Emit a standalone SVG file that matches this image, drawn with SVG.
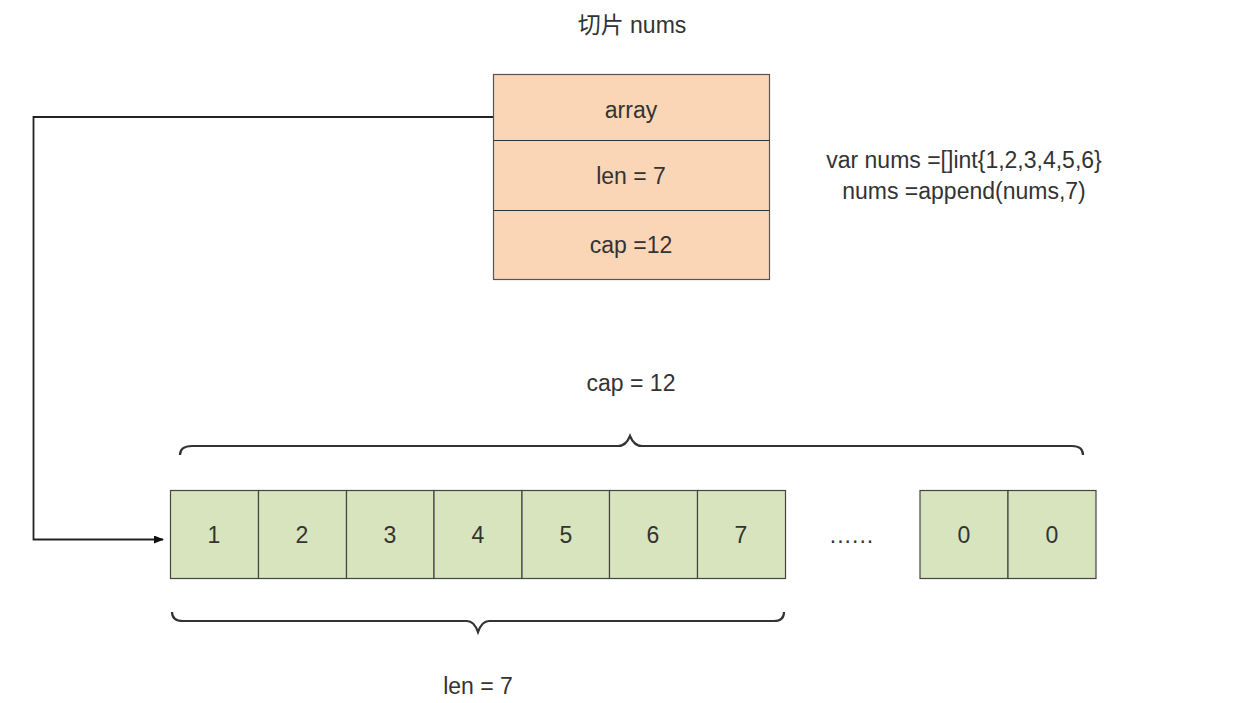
<svg xmlns="http://www.w3.org/2000/svg" width="1245" height="703" viewBox="0 0 1245 703">
<defs>
<style>
text{font-family:"Liberation Sans","Noto Sans CJK SC",Arial,sans-serif;font-size:23px;fill:#333;text-anchor:middle;dominant-baseline:central}
.hdr{fill:#fbd6b6;stroke:#555;stroke-width:1.2}
.cell{fill:#d7e4bd;stroke:#444;stroke-width:1.2}
.ln{fill:none;stroke:#222;stroke-width:1.8}
.br{fill:none;stroke:#333;stroke-width:2.2}
</style>
<marker id="arr" markerWidth="10" markerHeight="8" refX="9" refY="4" orient="auto" markerUnits="userSpaceOnUse">
<path d="M0,0 L10,4 L0,8 Z" fill="#111"/>
</marker>
</defs>
<rect width="1245" height="703" fill="#fff"/>
<text x="632" y="25">切片 nums</text>
<g id="slice">
<rect class="hdr" x="493.500" y="74.500" width="276" height="205"/>
<line x1="493.500" y1="140.500" x2="769.500" y2="140.500" stroke="#333" stroke-width="1.2"/>
<line x1="493.500" y1="210.500" x2="769.500" y2="210.500" stroke="#333" stroke-width="1.2"/>
<text x="631" y="110">array</text>
<text x="631" y="176">len = 7</text>
<text x="631" y="245">cap =12</text>
</g>
<g id="code">
<text x="964" y="160">var nums =[]int{1,2,3,4,5,6}</text>
<text x="964" y="191">nums =append(nums,7)</text>
</g>
<g id="connectors">
<path class="ln" d="M493,117 H33.500 V539.500 H163" marker-end="url(#arr)"/>
</g>
<g id="capbrace">
<path class="br" d="M180,455 Q180,446 192,446 H618 Q626,446 630,436 Q634,446 642,446 H1072 Q1083,446 1083,455"/>
<text x="631" y="383">cap = 12</text>
</g>
<g id="array">
<rect class="cell" x="170.500" y="490.500" width="88" height="88"/>
<rect class="cell" x="258.500" y="490.500" width="88" height="88"/>
<rect class="cell" x="346.500" y="490.500" width="87.500" height="88"/>
<rect class="cell" x="434" y="490.500" width="88" height="88"/>
<rect class="cell" x="522" y="490.500" width="87.500" height="88"/>
<rect class="cell" x="609.500" y="490.500" width="88" height="88"/>
<rect class="cell" x="697.500" y="490.500" width="88" height="88"/>
<text x="214" y="535">1</text>
<text x="302" y="535">2</text>
<text x="390" y="535">3</text>
<text x="478" y="535">4</text>
<text x="566" y="535">5</text>
<text x="653" y="535">6</text>
<text x="741" y="535">7</text>
<text x="852" y="535" letter-spacing="1">......</text>
<rect class="cell" x="920" y="490.500" width="88" height="88"/>
<rect class="cell" x="1008" y="490.500" width="88" height="88"/>
<text x="964" y="535">0</text>
<text x="1052" y="535">0</text>
</g>
<g id="lenbrace">
<path class="br" d="M172,612 Q172,621 183,621 H467 Q474,621 478,632 Q482,621 489,621 H774 Q784,621 784,612"/>
<text x="478" y="686">len = 7</text>
</g>
</svg>
